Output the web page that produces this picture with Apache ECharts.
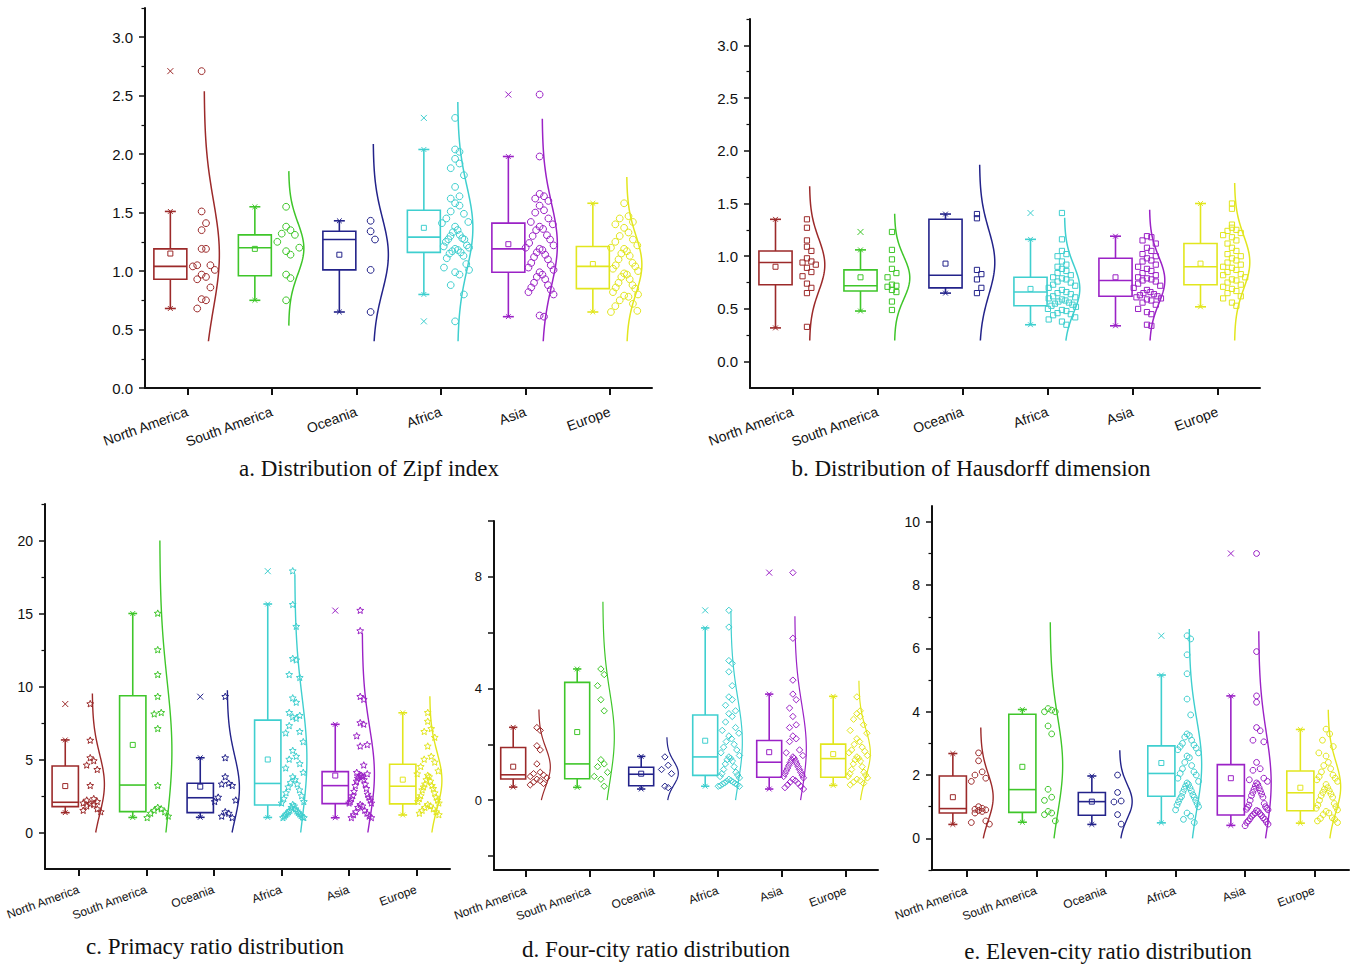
<!DOCTYPE html>
<html>
<head>
<meta charset="utf-8">
<title>City-size distribution indicators by continent</title>
<script src="https://cdn.jsdelivr.net/npm/echarts@6/dist/echarts.min.js"></script>
<style>
  html, body { margin: 0; padding: 0; background: #ffffff; }
  #chart { width: 1362px; height: 966px; }
</style>
</head>
<body>
<div id="chart"></div>
<script>
// ---------------------------------------------------------------------------
// Categories and colours
// ---------------------------------------------------------------------------
const continents = ['North America', 'South America', 'Oceania', 'Africa', 'Asia', 'Europe'];
const palette = ['#9c2a2a', '#3fc62a', '#23238a', '#3fcfcf', '#9b22c6', '#e2e61e'];

// ---------------------------------------------------------------------------
// a. Zipf index (one value per country)
// ---------------------------------------------------------------------------
const zipfNA = [2.71, 1.51, 1.41, 1.35, 1.19, 1.19, 1.05, 1.05, 1.04, 1.01, 0.97, 0.95, 0.93, 0.86, 0.76, 0.75, 0.68];
const zipfSA = [1.55, 1.38, 1.35, 1.32, 1.31, 1.25, 1.20, 1.17, 1.14, 0.97, 0.94, 0.75];
const zipfOC = [1.43, 1.34, 1.27, 1.01, 0.65];
const zipfAF = [2.31, 2.04, 2.02, 1.96, 1.92, 1.88, 1.82, 1.72, 1.64, 1.62, 1.58, 1.56, 1.51, 1.49, 1.45, 1.42, 1.41, 1.38, 1.36, 1.34, 1.31, 1.30, 1.29, 1.28, 1.27, 1.25, 1.23, 1.22, 1.20, 1.19, 1.18, 1.17, 1.16, 1.15, 1.13, 1.11, 1.06, 1.03, 1.01, 0.99, 0.97, 0.88, 0.80, 0.57];
const zipfAS = [2.51, 1.98, 1.66, 1.64, 1.62, 1.60, 1.56, 1.52, 1.50, 1.45, 1.42, 1.40, 1.38, 1.36, 1.35, 1.32, 1.30, 1.27, 1.24, 1.22, 1.20, 1.19, 1.18, 1.16, 1.14, 1.12, 1.10, 1.07, 1.05, 1.03, 1.01, 0.99, 0.97, 0.95, 0.93, 0.90, 0.88, 0.86, 0.84, 0.82, 0.80, 0.62, 0.61];
const zipfEU = [1.58, 1.47, 1.45, 1.42, 1.40, 1.37, 1.33, 1.30, 1.27, 1.25, 1.22, 1.20, 1.19, 1.17, 1.15, 1.13, 1.10, 1.07, 1.05, 1.04, 1.02, 1.00, 0.98, 0.97, 0.95, 0.93, 0.90, 0.88, 0.86, 0.85, 0.82, 0.80, 0.79, 0.78, 0.75, 0.72, 0.70, 0.66, 0.65];
// box statistics per continent: [lower whisker, Q1, median, Q3, upper whisker, mean]
const zipfBox = [
  [0.68, 0.93, 1.04, 1.19, 1.51, 1.15],
  [0.75, 0.96, 1.20, 1.31, 1.55, 1.19],
  [0.65, 1.01, 1.27, 1.34, 1.43, 1.14],
  [0.80, 1.16, 1.29, 1.52, 2.04, 1.37],
  [0.61, 0.99, 1.19, 1.41, 1.98, 1.23],
  [0.65, 0.85, 1.04, 1.21, 1.58, 1.06]
];
const zipfOutliers = [[2.71], [], [], [2.31, 0.57], [2.51], []];
const zipfLabels = [0, 0.5, 1, 1.5, 2, 2.5, 3];
const zipfMinor = [0.25, 0.75, 1.25, 1.75, 2.25, 2.75, 3.25];

// ---------------------------------------------------------------------------
// b. Hausdorff dimension
// ---------------------------------------------------------------------------
const hausNA = [1.35, 1.27, 1.15, 1.09, 1.05, 0.98, 0.95, 0.94, 0.92, 0.89, 0.85, 0.81, 0.74, 0.70, 0.65, 0.33];
const hausSA = [1.23, 1.06, 0.97, 0.88, 0.84, 0.80, 0.73, 0.72, 0.71, 0.68, 0.66, 0.57, 0.49];
const hausOC = [1.40, 1.36, 0.87, 0.83, 0.78, 0.70, 0.65];
const hausAF = [1.41, 1.16, 1.05, 1.02, 1.00, 0.95, 0.92, 0.90, 0.88, 0.86, 0.84, 0.82, 0.80, 0.79, 0.78, 0.76, 0.75, 0.73, 0.72, 0.70, 0.68, 0.66, 0.65, 0.64, 0.62, 0.61, 0.60, 0.59, 0.58, 0.57, 0.56, 0.55, 0.54, 0.53, 0.52, 0.50, 0.49, 0.48, 0.46, 0.45, 0.44, 0.42, 0.40, 0.38, 0.35];
const hausAS = [1.19, 1.18, 1.15, 1.12, 1.08, 1.05, 1.02, 1.00, 0.98, 0.96, 0.95, 0.92, 0.90, 0.88, 0.86, 0.84, 0.82, 0.80, 0.79, 0.78, 0.77, 0.76, 0.74, 0.72, 0.70, 0.68, 0.66, 0.65, 0.64, 0.63, 0.62, 0.61, 0.60, 0.59, 0.58, 0.56, 0.54, 0.50, 0.47, 0.45, 0.35, 0.34];
const hausEU = [1.50, 1.45, 1.30, 1.27, 1.25, 1.24, 1.22, 1.20, 1.18, 1.15, 1.12, 1.08, 1.05, 1.02, 1.00, 0.98, 0.96, 0.94, 0.92, 0.90, 0.89, 0.87, 0.85, 0.83, 0.82, 0.80, 0.78, 0.77, 0.75, 0.73, 0.71, 0.69, 0.67, 0.65, 0.62, 0.60, 0.56, 0.53];
const hausBox = [
  [0.32, 0.73, 0.94, 1.05, 1.35, 0.90],
  [0.48, 0.67, 0.72, 0.87, 1.06, 0.80],
  [0.65, 0.70, 0.82, 1.35, 1.40, 0.93],
  [0.35, 0.53, 0.66, 0.80, 1.16, 0.69],
  [0.34, 0.62, 0.77, 0.98, 1.19, 0.80],
  [0.52, 0.73, 0.90, 1.12, 1.50, 0.93]
];
const hausOutliers = [[], [1.23], [], [1.41], [], []];
const hausLabels = [0, 0.5, 1, 1.5, 2, 2.5, 3];
const hausMinor = [0.25, 0.75, 1.25, 1.75, 2.25, 2.75, 3.25];

// ---------------------------------------------------------------------------
// c. Primacy ratio
// ---------------------------------------------------------------------------
const primNA = [8.8, 6.3, 5.1, 4.9, 4.6, 4.3, 3.2, 2.3, 2.2, 2.1, 2.0, 1.95, 1.9, 1.8, 1.6, 1.5, 1.4];
const primSA = [15.0, 12.5, 10.8, 9.3, 8.2, 8.1, 7.1, 3.2, 1.7, 1.6, 1.5, 1.4, 1.3, 1.1, 1.0];
const primOC = [9.3, 5.1, 3.8, 3.35, 3.3, 3.2, 2.4, 2.2, 2.1, 1.4, 1.3, 1.1, 1.0];
const primAF = [17.9, 15.6, 14.1, 11.9, 11.8, 10.8, 10.6, 9.2, 8.9, 8.2, 8.0, 7.9, 7.8, 7.3, 6.9, 6.8, 6.2, 5.6, 5.2, 5.0, 4.7, 4.4, 4.1, 3.8, 3.6, 3.4, 3.3, 3.1, 2.9, 2.7, 2.5, 2.3, 2.1, 2.0, 1.9, 1.8, 1.7, 1.6, 1.5, 1.45, 1.4, 1.35, 1.3, 1.25, 1.2, 1.15, 1.1, 1.05, 1.0, 1.0];
const primAS = [15.2, 13.8, 9.3, 9.1, 7.5, 7.4, 6.6, 6.0, 5.9, 4.6, 4.1, 4.0, 3.9, 3.9, 3.8, 3.8, 3.7, 3.6, 3.5, 3.3, 3.2, 3.0, 2.8, 2.6, 2.5, 2.4, 2.3, 2.2, 2.1, 2.0, 2.0, 1.9, 1.8, 1.7, 1.5, 1.4, 1.3, 1.2, 1.1, 1.0, 1.0];
const primEU = [8.2, 7.6, 7.1, 6.9, 6.5, 5.9, 5.2, 5.0, 4.8, 4.5, 4.2, 4.0, 3.9, 3.8, 3.6, 3.5, 3.3, 3.2, 3.1, 3.0, 2.9, 2.7, 2.5, 2.4, 2.3, 2.2, 2.1, 2.0, 1.9, 1.8, 1.7, 1.6, 1.5, 1.4, 1.3, 1.2];
const primBox = [
  [1.36, 1.77, 2.07, 4.55, 6.34, 3.18],
  [1.03, 1.43, 3.25, 9.37, 15.0, 6.0],
  [1.04, 1.36, 2.38, 3.37, 5.12, 3.14],
  [1.03, 1.88, 3.36, 7.70, 15.65, 5.0],
  [1.01, 1.98, 3.21, 4.17, 7.41, 3.9],
  [1.20, 1.96, 3.17, 4.67, 8.2, 3.62]
];
const primOutliers = [[8.8], [], [9.3], [17.9], [15.2], []];
const primLabels = [0, 5, 10, 15, 20];
const primMinor = [2.5, 7.5, 12.5, 17.5, 22.5];

// ---------------------------------------------------------------------------
// d. Four-city ratio
// ---------------------------------------------------------------------------
const fourNA = [2.6, 2.5, 1.95, 1.8, 1.3, 1.0, 0.95, 0.9, 0.85, 0.8, 0.75, 0.7, 0.65, 0.6, 0.55];
const fourSA = [4.7, 4.5, 4.1, 3.6, 3.2, 1.45, 1.3, 1.2, 1.0, 0.85, 0.75, 0.5];
const fourOC = [1.55, 1.25, 1.1, 0.95, 0.5, 0.45];
const fourAF = [6.8, 6.2, 5.0, 4.9, 4.6, 4.1, 3.7, 3.6, 3.4, 3.2, 3.1, 3.0, 2.8, 2.6, 2.5, 2.4, 2.3, 2.2, 2.1, 2.0, 1.9, 1.8, 1.7, 1.6, 1.55, 1.5, 1.45, 1.4, 1.3, 1.2, 1.1, 1.0, 0.95, 0.9, 0.85, 0.8, 0.75, 0.7, 0.68, 0.65, 0.62, 0.6, 0.58, 0.55, 0.52, 0.5, 0.5];
const fourAS = [8.15, 5.8, 4.3, 3.8, 3.6, 3.3, 3.0, 2.7, 2.6, 2.3, 2.2, 2.1, 1.8, 1.7, 1.6, 1.55, 1.5, 1.45, 1.4, 1.35, 1.3, 1.25, 1.2, 1.15, 1.1, 1.05, 1.0, 0.95, 0.9, 0.85, 0.8, 0.75, 0.7, 0.65, 0.6, 0.55, 0.5, 0.45, 0.4];
const fourEU = [3.7, 3.2, 3.1, 3.0, 2.9, 2.7, 2.5, 2.4, 2.2, 2.1, 2.0, 1.9, 1.8, 1.75, 1.7, 1.6, 1.55, 1.5, 1.45, 1.4, 1.3, 1.2, 1.1, 1.0, 0.95, 0.9, 0.85, 0.8, 0.75, 0.7, 0.65, 0.6, 0.55];
const fourBox = [
  [0.47, 0.76, 0.91, 1.89, 2.61, 1.20],
  [0.46, 0.77, 1.30, 4.22, 4.70, 2.44],
  [0.40, 0.52, 0.93, 1.18, 1.57, 0.95],
  [0.50, 0.89, 1.55, 3.05, 6.17, 2.13],
  [0.40, 0.82, 1.36, 2.14, 3.80, 1.72],
  [0.53, 0.82, 1.49, 2.01, 3.72, 1.65]
];
const fourOutliers = [[], [], [], [6.8], [8.15], []];
const fourLabels = [0, 4, 8];
const fourTicks = [-2, 0, 2, 4, 6, 8, 10];

// ---------------------------------------------------------------------------
// e. Eleven-city ratio
// ---------------------------------------------------------------------------
const elevNA = [2.7, 2.45, 2.1, 2.0, 1.9, 1.8, 1.0, 0.95, 0.92, 0.9, 0.88, 0.85, 0.8, 0.55, 0.5, 0.45];
const elevSA = [4.1, 4.05, 4.0, 4.0, 3.55, 3.3, 1.55, 1.3, 1.2, 0.85, 0.8, 0.75, 0.55];
const elevOC = [2.0, 1.45, 1.18, 1.15, 0.75, 0.45];
const elevAF = [6.4, 6.3, 5.8, 5.2, 4.4, 3.9, 3.3, 3.25, 3.2, 3.1, 3.0, 2.95, 2.9, 2.85, 2.8, 2.7, 2.6, 2.55, 2.4, 2.3, 2.2, 2.1, 2.05, 2.0, 1.9, 1.8, 1.75, 1.7, 1.65, 1.6, 1.55, 1.5, 1.45, 1.4, 1.35, 1.3, 1.25, 1.2, 1.15, 1.1, 1.05, 1.0, 0.9, 0.8, 0.7, 0.6, 0.5];
const elevAS = [9.0, 5.9, 4.5, 4.3, 3.5, 3.4, 3.1, 3.05, 2.4, 2.2, 2.15, 1.9, 1.85, 1.8, 1.75, 1.7, 1.65, 1.6, 1.55, 1.5, 1.45, 1.4, 1.35, 1.3, 1.2, 1.1, 1.05, 1.0, 0.98, 0.95, 0.92, 0.9, 0.88, 0.85, 0.8, 0.78, 0.75, 0.72, 0.7, 0.65, 0.62, 0.6, 0.55, 0.52, 0.5, 0.45, 0.4];
const elevEU = [3.45, 3.3, 3.1, 2.9, 2.7, 2.6, 2.4, 2.3, 2.2, 2.1, 2.0, 1.95, 1.9, 1.85, 1.8, 1.7, 1.6, 1.55, 1.5, 1.45, 1.4, 1.35, 1.3, 1.2, 1.1, 1.05, 1.0, 0.95, 0.9, 0.85, 0.8, 0.75, 0.7, 0.65, 0.6, 0.55, 0.5];
const elevBox = [
  [0.44, 0.80, 0.94, 1.97, 2.68, 1.30],
  [0.51, 0.82, 1.54, 3.92, 4.07, 2.26],
  [0.44, 0.73, 1.16, 1.45, 1.97, 1.16],
  [0.49, 1.33, 2.05, 2.92, 5.16, 2.38],
  [0.41, 0.74, 1.34, 2.33, 4.50, 1.90],
  [0.48, 0.87, 1.44, 2.13, 3.44, 1.60]
];
const elevOutliers = [[], [], [], [6.4], [9.0], []];
const elevLabels = [0, 2, 4, 6, 8, 10];
const elevMinor = [-1, 1, 3, 5, 7, 9];

// ---------------------------------------------------------------------------
// Panel set-up: placement, axis ranges, marker shape and layout of the dots
// ---------------------------------------------------------------------------
const fmt1 = v => v.toFixed(1);
const fmt0 = v => String(Math.round(v));

const panels = [
  { title: 'a. Distribution of Zipf index', titleXY: [369, 468],
    groups: [zipfNA, zipfSA, zipfOC, zipfAF, zipfAS, zipfEU], box: zipfBox, outliers: zipfOutliers,
    rect: [145, 8, 507, 380], min: 0, max: 3.25, labels: zipfLabels, ticks: zipfLabels, minor: zipfMinor,
    fmt: fmt1, yFont: 15, xFont: 14, xMargin: 23, floor: 0.4, bin: 0.2, marker: 'circle', msize: 3.4, curveWidth: 1.5 },
  { title: 'b. Distribution of Hausdorff dimension', titleXY: [971, 468],
    groups: [hausNA, hausSA, hausOC, hausAF, hausAS, hausEU], box: hausBox, outliers: hausOutliers,
    rect: [750, 19, 510, 369], min: -0.25, max: 3.25, labels: hausLabels, ticks: hausLabels, minor: hausMinor,
    fmt: fmt1, yFont: 15, xFont: 14, xMargin: 23, floor: 0.2, bin: 0.1, marker: 'square', msize: 2.6, curveWidth: 1.5 },
  { title: 'c. Primacy ratio distribution', titleXY: [215, 946],
    groups: [primNA, primSA, primOC, primAF, primAS, primEU], box: primBox, outliers: primOutliers,
    rect: [45, 504, 405, 365], min: -2.5, max: 22.5, labels: primLabels, ticks: primLabels, minor: primMinor,
    fmt: fmt0, yFont: 14, xFont: 12, xMargin: 20, floor: 0, bin: 2, marker: 'star', msize: 3.6, curveWidth: 1.4 },
  { title: 'd. Four-city ratio distribution', titleXY: [656, 949],
    groups: [fourNA, fourSA, fourOC, fourAF, fourAS, fourEU], box: fourBox, outliers: fourOutliers,
    rect: [494, 521, 384, 349], min: -2.5, max: 10, labels: fourLabels, ticks: fourTicks, minor: [],
    fmt: fmt0, yFont: 13, xFont: 12, xMargin: 20, floor: 0, bin: 0.8, marker: 'diamond', msize: 3.2, curveWidth: 1.2 },
  { title: 'e. Eleven-city ratio distribution', titleXY: [1108, 951],
    groups: [elevNA, elevSA, elevOC, elevAF, elevAS, elevEU], box: elevBox, outliers: elevOutliers,
    rect: [932, 506, 417, 364], min: -1, max: 10.5, labels: elevLabels, ticks: elevLabels, minor: elevMinor,
    fmt: fmt0, yFont: 14, xFont: 12, xMargin: 20, floor: 0, bin: 0.9, marker: 'circle', msize: 2.9, curveWidth: 1.4 }
];

// ---------------------------------------------------------------------------
// Helpers
// ---------------------------------------------------------------------------
// Dots are binned by value; inside a bin the highest sits in the middle and the
// lower ones fan out alternately to the right and left (chevron pattern).
function dotSlots(vals, floor, bin) {
  const bins = {};
  vals.forEach((v, i) => {
    const k = Math.floor((v - floor) / bin + 1e-9);
    (bins[k] = bins[k] || []).push(i);
  });
  const out = new Array(vals.length);
  Object.keys(bins).forEach(k => {
    const idx = bins[k].sort((a, b) => vals[b] - vals[a]);
    const half = Math.ceil((idx.length - 1) / 2);
    idx.forEach((i, r) => {
      const slot = r === 0 ? 0 : (r % 2 ? 1 : -1) * Math.ceil(r / 2);
      out[i] = [slot, half];
    });
  });
  return out;
}

function meanSd(vals) {
  const n = vals.length;
  const m = vals.reduce((s, v) => s + v, 0) / n;
  const sd = Math.sqrt(vals.reduce((s, v) => s + (v - m) * (v - m), 0) / (n - 1));
  return [m, sd];
}

function crossShape(x, y, r, color, w) {
  return [
    { type: 'line', shape: { x1: x - r, y1: y - r, x2: x + r, y2: y + r }, style: { stroke: color, lineWidth: w } },
    { type: 'line', shape: { x1: x - r, y1: y + r, x2: x + r, y2: y - r }, style: { stroke: color, lineWidth: w } }
  ];
}

function markerShape(kind, x, y, s, color) {
  const style = { stroke: color, lineWidth: 1, fill: 'none' };
  if (kind === 'circle') return { type: 'circle', shape: { cx: x, cy: y, r: s }, style };
  if (kind === 'square') return { type: 'rect', shape: { x: x - s, y: y - s, width: 2 * s, height: 2 * s }, style };
  if (kind === 'diamond') return { type: 'polygon', shape: { points: [[x, y - s], [x + s, y], [x, y + s], [x - s, y]] }, style };
  const pts = [];
  for (let i = 0; i < 10; i++) {
    const a = -Math.PI / 2 + i * Math.PI / 5;
    const r = i % 2 ? s * 0.45 : s;
    pts.push([x + r * Math.cos(a), y + r * Math.sin(a)]);
  }
  return { type: 'polygon', shape: { points: pts }, style };
}

// ---------------------------------------------------------------------------
// Renderers (all positions come from api.coord / api.size of the panel axes)
// ---------------------------------------------------------------------------
function renderBox(params, api) {
  const c = api.value(0);
  const color = palette[c];
  const bw = api.size([1, 0])[0];
  const t = api.coord([c, 0])[0];
  const Y = k => api.coord([c, api.value(k)])[1];
  const cx = t - 0.2 * bw, hw = 0.195 * bw, cw = 0.065 * bw;
  const lo = Y(1), q1 = Y(2), md = Y(3), q3 = Y(4), hi = Y(5), mn = Y(6);
  const lw = 1.6;
  const ln = (x1, y1, x2, y2) => ({ type: 'line', shape: { x1, y1, x2, y2 }, style: { stroke: color, lineWidth: lw } });
  const children = [
    ln(cx, q3, cx, hi),
    ln(cx, q1, cx, lo),
    { type: 'rect', shape: { x: cx - hw, y: q3, width: 2 * hw, height: q1 - q3 }, style: { stroke: color, lineWidth: lw, fill: 'none' } },
    ln(cx - hw, md, cx + hw, md),
    ln(cx - cw, hi, cx + cw, hi),
    ln(cx - cw, lo, cx + cw, lo),
    { type: 'rect', shape: { x: cx - 2.5, y: mn - 2.5, width: 5, height: 5 }, style: { stroke: color, lineWidth: 1, fill: 'none' } }
  ].concat(crossShape(cx, hi, 2.4, color, 1), crossShape(cx, lo, 2.4, color, 1));
  return { type: 'group', children };
}

function renderOutlier(params, api) {
  const c = api.value(0);
  const bw = api.size([1, 0])[0];
  const p = api.coord([c, api.value(1)]);
  return { type: 'group', children: crossShape(p[0] - 0.2 * bw, p[1], 3, palette[c], 1) };
}

function makeDotRenderer(kind, size) {
  return function (params, api) {
    const c = api.value(0);
    const bw = api.size([1, 0])[0];
    const p = api.coord([c, api.value(1)]);
    const half = api.value(3);
    const step = half > 0 ? Math.min(0.052 * bw, 0.165 * bw / half) : 0;
    const x = p[0] + 0.17 * bw + api.value(2) * step;
    return markerShape(kind, x, p[1], size, palette[c]);
  };
}

function makeCurveRenderer(width) {
  return function (params, api) {
    const c = api.value(0);
    const lo = api.value(1), hi = api.value(2), m = api.value(3), sd = api.value(4);
    const bw = api.size([1, 0])[0];
    const t = api.coord([c, lo])[0];
    const base = t + 0.2 * bw, amp = 0.18 * bw;
    const pts = [];
    const n = 90;
    for (let i = 0; i <= n; i++) {
      const v = lo + (hi - lo) * i / n;
      const d = Math.exp(-0.5 * Math.pow((v - m) / sd, 2));
      pts.push([base + amp * d, api.coord([c, v])[1]]);
    }
    return { type: 'polyline', shape: { points: pts }, style: { stroke: palette[c], lineWidth: width, fill: 'none' } };
  };
}

// ---------------------------------------------------------------------------
// Option assembly
// ---------------------------------------------------------------------------
const option = {
  animation: false,
  backgroundColor: '#ffffff',
  grid: [], xAxis: [], yAxis: [], series: [], graphic: []
};

const textFont = '"Liberation Sans", Arial, sans-serif';
const axisColor = '#111111';

panels.forEach((p, gi) => {
  const [left, top, width, height] = p.rect;
  option.grid.push({ left, top, width, height, containLabel: false });

  option.xAxis.push({
    type: 'category', gridIndex: gi, data: continents, boundaryGap: true,
    axisLine: { show: true, onZero: false, lineStyle: { color: axisColor, width: 2 } },
    axisTick: { show: true, alignWithLabel: true, length: 7, lineStyle: { color: axisColor, width: 2 } },
    axisLabel: { interval: 0, rotate: 20, margin: p.xMargin, fontSize: p.xFont, fontFamily: textFont, color: axisColor },
    splitLine: { show: false }
  });

  option.yAxis.push({
    type: 'value', gridIndex: gi, position: 'left', min: p.min, max: p.max,
    axisLine: { show: true, onZero: false, lineStyle: { color: axisColor, width: 2 } },
    axisTick: { show: true, inside: false, length: 6, customValues: p.ticks, lineStyle: { color: axisColor, width: 1.5 } },
    axisLabel: { show: true, customValues: p.labels, formatter: p.fmt, margin: 12, fontSize: p.yFont, fontFamily: textFont, color: axisColor },
    splitLine: { show: false }
  });
  option.yAxis.push({
    type: 'value', gridIndex: gi, position: 'left', offset: 0, min: p.min, max: p.max,
    axisLine: { show: false },
    axisTick: { show: p.minor.length > 0, inside: false, length: 3.5, customValues: p.minor.length ? p.minor : [p.min], lineStyle: { color: axisColor, width: 1.2 } },
    axisLabel: { show: false },
    splitLine: { show: false }
  });

  const yIdx = 2 * gi;
  const boxData = p.box.map((b, c) => [c].concat(b));
  const outData = [];
  p.outliers.forEach((arr, c) => arr.forEach(v => outData.push([c, v])));
  const dotData = [];
  const curveData = [];
  p.groups.forEach((vals, c) => {
    const slots = dotSlots(vals, p.floor, p.bin);
    vals.forEach((v, i) => dotData.push([c, v, slots[i][0], slots[i][1]]));
    const [m, sd] = meanSd(vals);
    curveData.push([c, Math.max(p.floor, m - 3 * sd), m + 3 * sd, m, sd]);
  });

  option.series.push(
    { type: 'custom', name: 'box ' + gi, xAxisIndex: gi, yAxisIndex: yIdx, silent: true, clip: false,
      renderItem: renderBox, encode: { x: 0, y: [1, 2, 3, 4, 5, 6] }, data: boxData },
    { type: 'custom', name: 'outliers ' + gi, xAxisIndex: gi, yAxisIndex: yIdx, silent: true, clip: false,
      renderItem: renderOutlier, encode: { x: 0, y: 1 }, data: outData },
    { type: 'custom', name: 'dots ' + gi, xAxisIndex: gi, yAxisIndex: yIdx, silent: true, clip: false,
      renderItem: makeDotRenderer(p.marker, p.msize), encode: { x: 0, y: 1 }, data: dotData },
    { type: 'custom', name: 'curve ' + gi, xAxisIndex: gi, yAxisIndex: yIdx, silent: true, clip: false,
      renderItem: makeCurveRenderer(p.curveWidth), encode: { x: 0, y: [1, 2] }, data: curveData }
  );

  option.graphic.push({
    type: 'text', x: p.titleXY[0], y: p.titleXY[1], silent: true,
    style: {
      text: p.title, font: '23px "Liberation Serif", "Times New Roman", serif', fill: '#111111',
      align: 'center', verticalAlign: 'middle', textAlign: 'center', textVerticalAlign: 'middle'
    }
  });
});

const chart = echarts.init(document.getElementById('chart'), null, { renderer: 'svg', width: 1362, height: 966 });
chart.setOption(option);
</script>
</body>
</html>
